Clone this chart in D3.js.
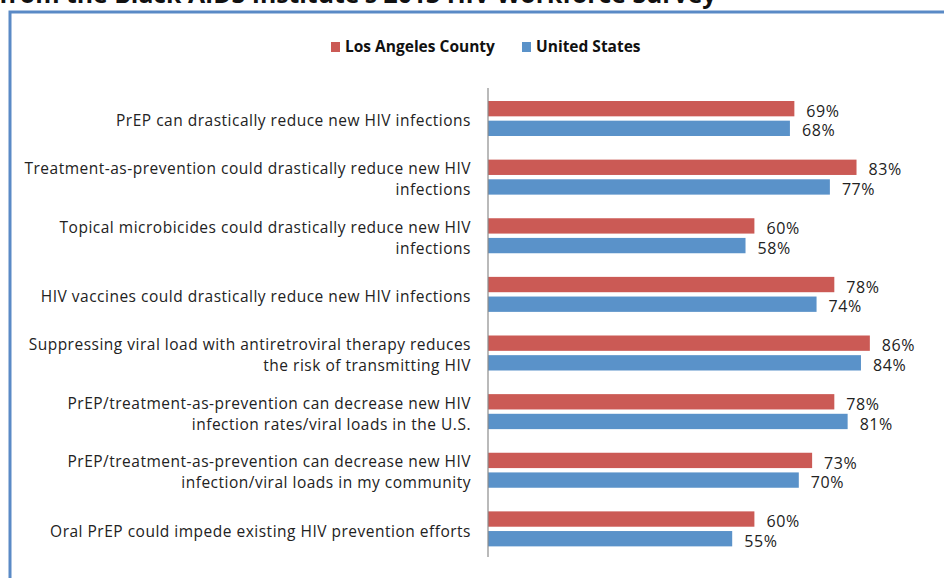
<!DOCTYPE html>
<html>
<head>
<meta charset="utf-8">
<script src="https://cdn.jsdelivr.net/npm/d3@7/dist/d3.min.js"></script>
<style>
  html, body { margin: 0; padding: 0; background: #fff; }
  svg { display: block; font-family: "Open Sans", "Lato", sans-serif; }
</style>
</head>
<body>
<svg id="chart" width="944" height="578"></svg>
<script>
// Survey statements, one array of lines per category (wrapped as displayed)
const categories = [
  ["PrEP can drastically reduce new HIV infections"],
  ["Treatment-as-prevention could drastically reduce new HIV", "infections"],
  ["Topical microbicides could drastically reduce new HIV", "infections"],
  ["HIV vaccines could drastically reduce new HIV infections"],
  ["Suppressing viral load with antiretroviral therapy reduces", "the risk of transmitting HIV"],
  ["PrEP/treatment-as-prevention can decrease new HIV", "infection rates/viral loads in the U.S."],
  ["PrEP/treatment-as-prevention can decrease new HIV", "infection/viral loads in my community"],
  ["Oral PrEP could impede existing HIV prevention efforts"]
];
const seriesNames = ["Los Angeles County", "United States"];
const laCounty = [69, 83, 60, 78, 86, 78, 73, 60];
const unitedStates = [68, 77, 58, 74, 84, 81, 70, 55];
const seriesColors = ["#CB5A55", "#5A92C9"];
const titleText = "from the Black AIDS Institute\u2019s 2013 HIV Workforce Survey";

const svg = d3.select("#chart");
const values = [laCounty, unitedStates];

// Title (runs off the top edge)
svg.append("text")
  .attr("x", -1).attr("y", 3)
  .attr("font-size", 24.8).attr("font-weight", "bold")
  .attr("fill", "#111")
  .text(titleText);

// Chart frame
svg.append("path")
  .attr("d", "M10,600 V12 H960")
  .attr("fill", "none")
  .attr("stroke", "#5A8AC6")
  .attr("stroke-width", 3);

const x = d3.scaleLinear().domain([0, 100]).range([488, 932]);
const idx = d3.range(categories.length);
const y = d3.scaleBand().domain(idx).range([88, 557]).padding(0);
const ySub = d3.scaleBand().domain([0, 1]).range([13, 48]).paddingInner(0.22);

// Legend
const legend = svg.append("g").attr("font-size", 15.5).attr("font-weight", "bold");
const legendX = [331, 522];
seriesNames.forEach((name, i) => {
  legend.append("rect")
    .attr("x", legendX[i]).attr("y", 42).attr("width", 9).attr("height", 10)
    .attr("fill", seriesColors[i]);
  legend.append("text")
    .attr("x", legendX[i] + 14).attr("y", 47).attr("dy", "0.35em")
    .attr("fill", "#111")
    .text(name);
});

// Bars and value labels
const groups = svg.append("g").selectAll("g")
  .data(idx).join("g")
  .attr("transform", i => `translate(0,${y(i)})`);

[0, 1].forEach(s => {
  groups.append("rect")
    .attr("x", x(0))
    .attr("y", ySub(s))
    .attr("width", i => x(values[s][i]) - x(0))
    .attr("height", ySub.bandwidth())
    .attr("fill", seriesColors[s]);
  groups.append("text")
    .attr("x", i => x(values[s][i]) + 12)
    .attr("y", ySub(s) + ySub.bandwidth() / 2 + 2.5)
    .attr("dy", "0.35em")
    .attr("font-size", 16)
    .attr("letter-spacing", 0.6)
    .attr("fill", "#222")
    .text(i => values[s][i] + "%");
});

// Category labels
const lineH = 21;
groups.append("text")
  .attr("text-anchor", "end")
  .attr("font-size", 15.5)
  .attr("letter-spacing", 0.5)
  .attr("fill", "#222")
  .each(function(i) {
    const lines = categories[i];
    const t = d3.select(this);
    const c = y.bandwidth() / 2 + 3.5;
    lines.forEach((ln, k) => {
      t.append("tspan")
        .attr("x", 471)
        .attr("y", c + (k - (lines.length - 1) / 2) * lineH)
        .attr("dy", "0.35em")
        .text(ln);
    });
  });

// Category axis line
svg.append("line")
  .attr("x1", x(0)).attr("x2", x(0))
  .attr("y1", 88).attr("y2", 557)
  .attr("stroke", "#8C8C8C").attr("stroke-width", 1.2);
</script>
</body>
</html>
